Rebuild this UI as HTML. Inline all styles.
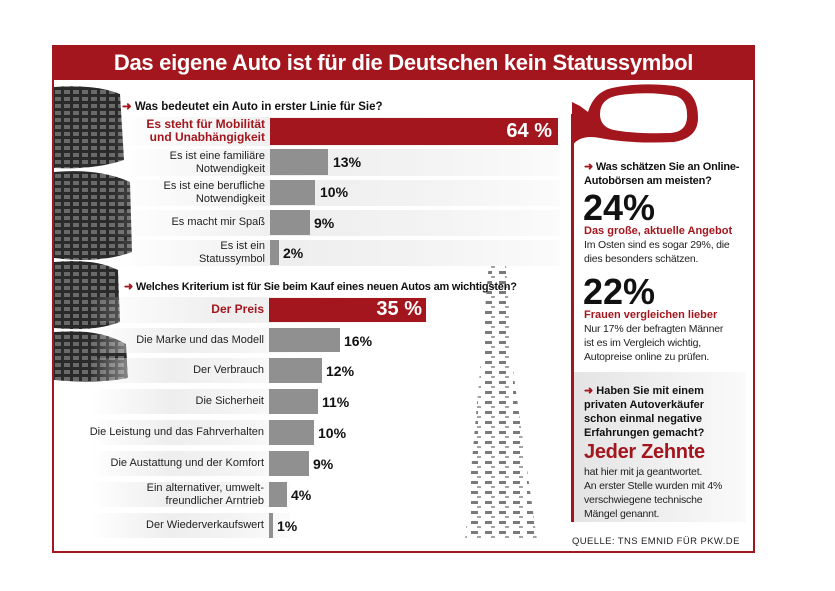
<!DOCTYPE html>
<html><head><meta charset="utf-8"><style>
*{margin:0;padding:0;box-sizing:border-box}
body{width:835px;height:591px;background:#fff;font-family:"Liberation Sans",sans-serif;position:relative;overflow:hidden;color:#111}
.a{position:absolute}
.frame{left:52px;top:45px;width:703px;height:508px;border:2px solid #a3161d}
.title{left:52px;top:45px;width:703px;height:35px;background:#a3161d;color:#fff;font-weight:bold;font-size:22px;text-align:center;line-height:35px;letter-spacing:-0.3px}
.q{font-weight:bold;font-size:11.5px;color:#111;white-space:nowrap}
.q b{color:#a3161d}
.band{background:linear-gradient(90deg,rgba(255,255,255,0),#eee 40%,#f3f3f3 70%,#fbfbfb)}
.lab{font-size:11px;text-align:right;line-height:13px;color:#222}
.bar{background:#909090}
.red{background:#a3161d}
.val{font-weight:bold;font-size:14px;color:#111}
.rt{font-size:10.5px;line-height:14px;color:#222;letter-spacing:-0.2px}
</style></head><body>
<div class="a frame"></div>
<div class="a title">Das eigene Auto ist für die Deutschen kein Statussymbol</div>

<!-- tires -->
<svg class="a" style="left:54px;top:82px" width="80" height="300">
<defs><pattern id="tr" width="9" height="7" patternUnits="userSpaceOnUse"><rect width="9" height="7" fill="#2a2a2a"/><rect x="1" y="1" width="6" height="4" fill="#6a6a6a"/></pattern></defs>
<path d="M0 5 Q40 2 66 12 L70 78 Q40 88 0 86Z" fill="url(#tr)"/>
<path d="M0 90 Q45 86 76 100 L78 170 Q45 182 0 176Z" fill="url(#tr)"/>
<path d="M0 180 Q40 176 64 188 L66 240 Q40 250 0 246Z" fill="url(#tr)"/>
<path d="M0 250 Q45 246 72 262 L74 296 Q45 302 0 298Z" fill="url(#tr)"/>
</svg>

<!-- tire track -->
<svg class="a" style="left:455px;top:250px" width="95" height="290">
<defs><pattern id="tt" width="14" height="10" patternUnits="userSpaceOnUse"><rect x="2" y="1" width="7" height="3" fill="#222"/><rect x="8" y="6" width="4" height="2" fill="#666"/></pattern></defs>
<path d="M35 0 L50 0 L58 120 L82 290 L10 290 L25 120Z" fill="url(#tt)" opacity="0.6"/>
</svg>

<!-- top chart -->
<div class="a q" style="left:122px;top:99px"><b>➜</b> Was bedeutet ein Auto in erster Linie für Sie?</div>
<div class="a band" style="left:110px;top:117px;width:450px;height:29px"></div>
<div class="a band" style="left:110px;top:149px;width:450px;height:27px"></div>
<div class="a band" style="left:110px;top:180px;width:450px;height:26px"></div>
<div class="a band" style="left:110px;top:210px;width:450px;height:26px"></div>
<div class="a band" style="left:110px;top:240px;width:450px;height:26px"></div>
<div class="a lab" style="left:110px;top:118px;width:155px;color:#a3161d;font-weight:bold;font-size:12px">Es steht für Mobilität<br>und Unabhängigkeit</div>
<div class="a red" style="left:270px;top:118px;width:288px;height:27px"></div>
<div class="a" style="left:470px;top:120px;width:82px;text-align:right;color:#fff;font-weight:bold;font-size:20px">64 %</div>
<div class="a lab" style="left:110px;top:150px;width:155px">Es ist eine familiäre<br>Notwendigkeit</div>
<div class="a bar" style="left:270px;top:149px;width:58px;height:26px"></div>
<div class="a val" style="left:333px;top:154px">13%</div>
<div class="a lab" style="left:110px;top:180px;width:155px">Es ist eine berufliche<br>Notwendigkeit</div>
<div class="a bar" style="left:270px;top:180px;width:45px;height:25px"></div>
<div class="a val" style="left:320px;top:184px">10%</div>
<div class="a lab" style="left:110px;top:216px;width:155px">Es macht mir Spaß</div>
<div class="a bar" style="left:270px;top:210px;width:40px;height:25px"></div>
<div class="a val" style="left:314px;top:215px">9%</div>
<div class="a lab" style="left:110px;top:240px;width:155px">Es ist ein<br>Statussymbol</div>
<div class="a bar" style="left:270px;top:240px;width:9px;height:25px"></div>
<div class="a val" style="left:283px;top:245px">2%</div>

<!-- bottom chart -->
<div class="a q" style="left:124px;top:280px;font-size:11px;letter-spacing:-0.2px"><b>➜</b> Welches Kriterium ist für Sie beim Kauf eines neuen Autos am wichtigsten?</div>
<div class="a band" style="left:90px;top:297px;width:340px;height:26px"></div>
<div class="a band" style="left:90px;top:328px;width:210px;height:25px"></div>
<div class="a band" style="left:90px;top:358px;width:200px;height:25px"></div>
<div class="a band" style="left:90px;top:389px;width:200px;height:25px"></div>
<div class="a band" style="left:90px;top:420px;width:200px;height:25px"></div>
<div class="a band" style="left:90px;top:451px;width:200px;height:25px"></div>
<div class="a band" style="left:90px;top:482px;width:200px;height:25px"></div>
<div class="a band" style="left:90px;top:513px;width:200px;height:25px"></div>
<div class="a lab" style="left:80px;top:303px;width:184px;color:#a3161d;font-weight:bold;font-size:12px">Der Preis</div>
<div class="a red" style="left:269px;top:298px;width:157px;height:24px"></div>
<div class="a" style="left:360px;top:298px;width:62px;text-align:right;color:#fff;font-weight:bold;font-size:20px">35 %</div>
<div class="a lab" style="left:80px;top:334px;width:184px">Die Marke und das Modell</div>
<div class="a bar" style="left:269px;top:328px;width:71px;height:24px"></div>
<div class="a val" style="left:344px;top:333px">16%</div>
<div class="a lab" style="left:80px;top:364px;width:184px">Der Verbrauch</div>
<div class="a bar" style="left:269px;top:358px;width:53px;height:25px"></div>
<div class="a val" style="left:326px;top:363px">12%</div>
<div class="a lab" style="left:80px;top:395px;width:184px">Die Sicherheit</div>
<div class="a bar" style="left:269px;top:389px;width:49px;height:25px"></div>
<div class="a val" style="left:322px;top:394px">11%</div>
<div class="a lab" style="left:80px;top:426px;width:184px">Die Leistung und das Fahrverhalten</div>
<div class="a bar" style="left:269px;top:420px;width:45px;height:25px"></div>
<div class="a val" style="left:318px;top:425px">10%</div>
<div class="a lab" style="left:80px;top:457px;width:184px">Die Austattung und der Komfort</div>
<div class="a bar" style="left:269px;top:451px;width:40px;height:25px"></div>
<div class="a val" style="left:313px;top:456px">9%</div>
<div class="a lab" style="left:80px;top:482px;width:184px">Ein alternativer, umwelt-<br>freundlicher Arntrieb</div>
<div class="a bar" style="left:269px;top:482px;width:18px;height:25px"></div>
<div class="a val" style="left:291px;top:487px">4%</div>
<div class="a lab" style="left:80px;top:519px;width:184px">Der Wiederverkaufswert</div>
<div class="a bar" style="left:269px;top:513px;width:4px;height:25px"></div>
<div class="a val" style="left:277px;top:518px">1%</div>

<!-- right panel -->
<svg class="a" style="left:570px;top:84px" width="140" height="75">
<path d="M2 18 L2 62 Q10 50 30 54 Q60 60 104 58 Q128 54 128 34 Q128 6 104 2 Q70 -2 42 4 Q24 8 18 28 L10 22Z" fill="#a3161d"/>
<path d="M30 30 Q30 14 50 11 Q80 7 106 12 Q118 16 117 34 Q116 48 100 49 Q64 50 44 46 Q30 43 30 30Z" fill="#fff"/>
</svg>
<div class="a" style="left:571px;top:114px;width:3px;height:408px;background:#a3161d"></div>
<div class="a q" style="left:584px;top:160px;font-size:11px;line-height:14px;width:170px;white-space:normal;letter-spacing:-0.2px"><b>➜</b> Was schätzen Sie an Online-<br>Autobörsen am meisten?</div>
<div class="a" style="left:583px;top:189px;font-size:36px;font-weight:bold;line-height:38px">24%</div>
<div class="a" style="left:584px;top:225px;font-size:11px;font-weight:bold;color:#a3161d">Das große, aktuelle Angebot</div>
<div class="a rt" style="left:584px;top:238px;width:170px">Im Osten sind es sogar 29%, die<br>dies besonders schätzen.</div>
<div class="a" style="left:583px;top:273px;font-size:36px;font-weight:bold;line-height:38px">22%</div>
<div class="a" style="left:584px;top:309px;font-size:11px;font-weight:bold;color:#a3161d">Frauen vergleichen lieber</div>
<div class="a rt" style="left:584px;top:322px;width:170px">Nur 17% der befragten Männer<br>ist es im Vergleich wichtig,<br>Autopreise online zu prüfen.</div>
<div class="a" style="left:574px;top:372px;width:172px;height:150px;background:linear-gradient(90deg,#e4e4e4,#fafafa)"></div>
<div class="a q" style="left:584px;top:384px;font-size:11px;line-height:14px;width:160px;white-space:normal"><b>➜</b> Haben Sie mit einem<br>privaten Autoverkäufer<br>schon einmal negative<br>Erfahrungen gemacht?</div>
<div class="a" style="left:584px;top:441px;font-size:20px;font-weight:bold;color:#a3161d;letter-spacing:-0.3px">Jeder Zehnte</div>
<div class="a rt" style="left:584px;top:465px;width:160px">hat hier mit ja geantwortet.<br>An erster Stelle wurden mit 4%<br>verschwiegene technische<br>Mängel genannt.</div>
<div class="a" style="left:572px;top:536px;font-size:9.5px;letter-spacing:0.4px;color:#222">QUELLE: TNS EMNID FÜR PKW.DE</div>
</body></html>
